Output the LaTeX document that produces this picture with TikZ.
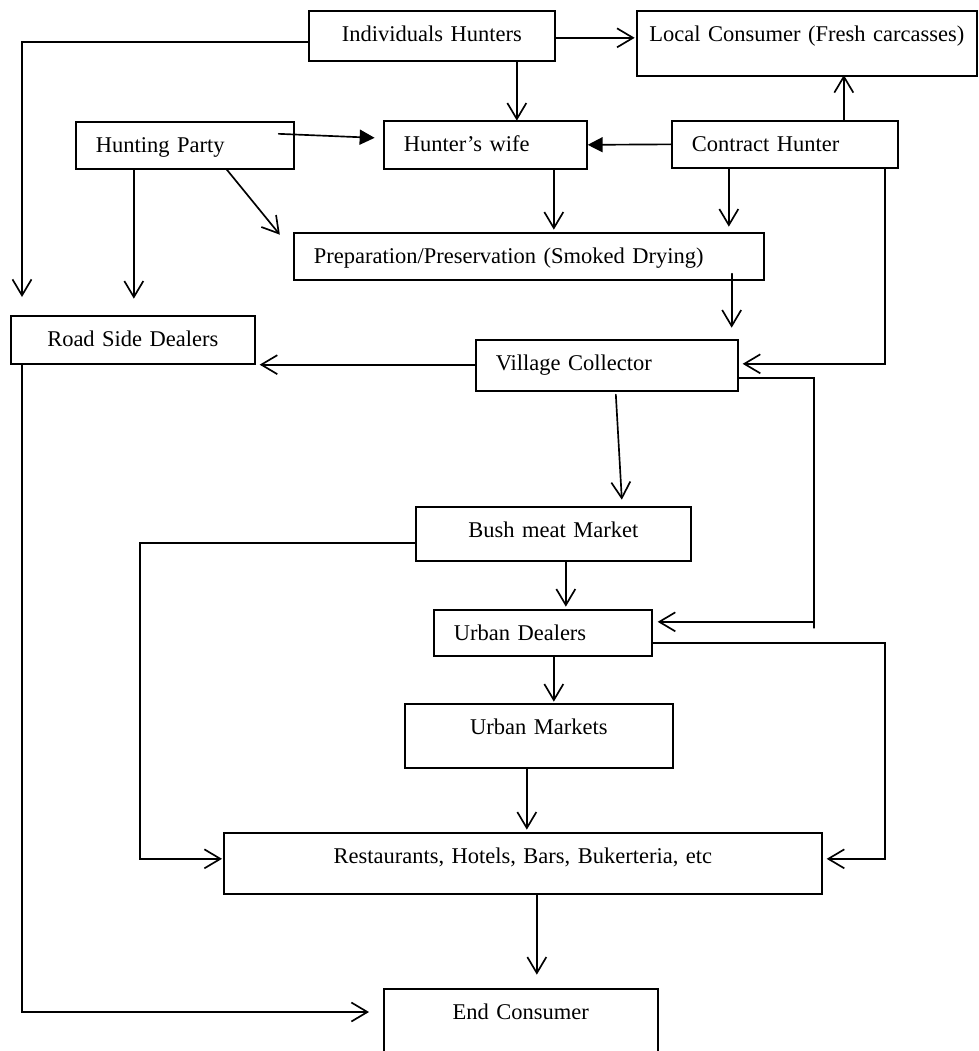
\documentclass[tikz,border=0pt]{standalone}
\usepackage{fontspec}
\setmainfont{Liberation Serif}
\usetikzlibrary{arrows.meta}
\begin{document}
\begin{tikzpicture}[line cap=round,line join=miter,line width=.95pt,
	>={Straight Barb[length=.32cm,width=.38cm]},
	font=\fontsize{12.8}{15}\selectfont,
	box/.style={draw,anchor=north west,inner xsep=.1cm,inner ysep=0pt,text height=.62cm,align=center},
	lbox/.style={box,inner xsep=.4cm,align=left},
	filltip/.style={-{Triangle[length=.3cm,width=.3cm]}}]
	\useasboundingbox (0,0) rectangle (19.56,-21.02);
	\node[box,text width=4.72cm,text depth=.38cm] (ih) at (6.16,-.2) {Individuals Hunters};
	\node[box,text width=6.6cm,text depth=.68cm] (lc) at (12.72,-.2) {Local Consumer (Fresh carcasses)};
	\node[lbox,text width=3.56cm,text depth=.32cm] (hp) at (1.5,-2.42) {Hunting Party};
	\node[lbox,text width=3.26cm,text depth=.34cm] (hw) at (7.66,-2.4) {Hunter’s wife};
	\node[lbox,text width=3.72cm,text depth=.32cm] (ch) at (13.42,-2.4) {Contract Hunter};
	\node[lbox,text width=8.6cm,text depth=.32cm] (pp) at (5.86,-4.64) {Preparation/Preservation (Smoked Drying)};
	\node[box,text width=4.68cm,text depth=.34cm] (rs) at (.2,-6.3) {Road Side Dealers};
	\node[lbox,text width=4.44cm,text depth=.4cm] (vc) at (9.5,-6.78) {Village Collector};
	\node[box,text width=5.3cm,text depth=.46cm] (bm) at (8.3,-10.12) {Bush meat Market};
	\node[lbox,text width=3.56cm,text depth=.3cm] (ud) at (8.66,-12.18) {Urban Dealers};
	\node[box,text width=5.16cm,text depth=.66cm] (um) at (8.08,-14.06) {Urban Markets};
	\node[box,text width=11.76cm,text depth=.6cm] (rh) at (4.46,-16.64) {Restaurants, Hotels, Bars, Bukerteria, etc};
	\node[box,text width=5.28cm,text depth=.88cm] (ec) at (7.66,-19.76) {End Consumer};
	\draw[->] ([yshift=-.13cm]ih.west) -| ([xshift=.24cm,yshift=.36cm]rs.north west);
	\draw[->] ([yshift=-.04cm]ih.east) -- ++(1.58,0);
	\draw[->] ([xshift=1.7cm]ih.south) -- ++(0,-1.18);
	\draw[filltip] ([xshift=-.32cm,yshift=.23cm]hp.east) -- ++(1.92,-.08);
	\draw[filltip] (ch.west) -- (hw.east);
	\draw[->] ([xshift=1.18cm]ch.north) -- ++(0,.9);
	\draw[->] ([xshift=1.37cm]hw.south) -- ++(0,-1.2);
	\draw[->] ([xshift=-1.12cm]ch.south) -- ++(0,-1.16);
	\draw[->] ([xshift=-.28cm]ch.south east) |- ([xshift=.08cm,yshift=.03cm]vc.east);
	\draw[->] ([xshift=-1.02cm]hp.south) -- ++(0,-2.58);
	\draw[->] ([xshift=.84cm]hp.south) -- ++(1.06,-1.3);
	\draw[->] ([xshift=-.66cm,yshift=.14cm]pp.south east) -- ++(0,-1.08);
	\draw[->] (vc.west |- rs.south east) -- ([xshift=.08cm]rs.south east);
	\draw[->] ([xshift=.18cm,yshift=-.06cm]vc.south) -- ++(.12,-2.1);
	\draw ([yshift=-.25cm]vc.east) -| ([xshift=3.22cm,yshift=.1cm]ud.east);
	\draw[->] ([xshift=3.22cm,yshift=.22cm]ud.east) -- ([xshift=.1cm,yshift=.22cm]ud.east);
	\draw[->] ([yshift=-.18cm]bm.west) -| ([xshift=-1.66cm,yshift=.09cm]rh.west) -- ([xshift=-.02cm,yshift=.09cm]rh.west);
	\draw[->] ([xshift=.25cm]bm.south) -- ++(0,-.9);
	\draw[->] ([xshift=.22cm]ud.south) -- ++(0,-.9);
	\draw[->] ([yshift=-.2cm]ud.east) -| ([xshift=1.24cm,yshift=.09cm]rh.east) -- ([xshift=.08cm,yshift=.09cm]rh.east);
	\draw[->] ([xshift=-.24cm]um.south) -- ++(0,-1.22);
	\draw[->] ([xshift=.28cm]rh.south) -- ++(0,-1.6);
	\draw[->] ([xshift=.24cm]rs.south west) |- ([xshift=-.28cm,yshift=-.48cm]ec.north west);
\end{tikzpicture}
\end{document}
